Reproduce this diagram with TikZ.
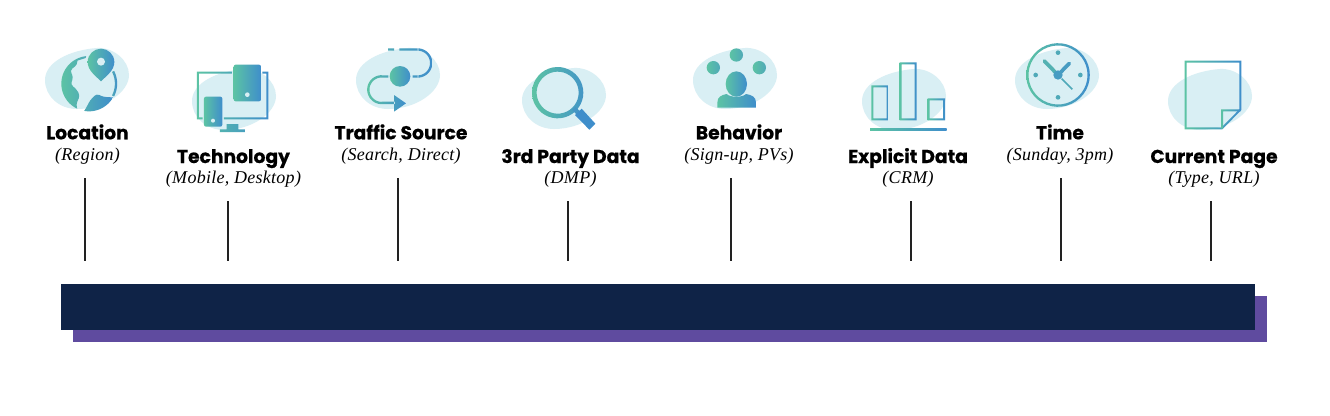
\documentclass[tikz,border=0pt]{standalone}
\usepackage{fontspec}
\newfontfamily\popf{Poppins}[BoldFeatures={FakeBold=0.6}]
\newfontfamily\serf{Liberation Serif}[ItalicFeatures={LetterSpace=1.5}]
\definecolor{gA}{HTML}{5CC3A4}
\definecolor{gM}{HTML}{4FA9B8}
\definecolor{gB}{HTML}{3F8ECB}
\definecolor{blobc}{HTML}{D9EFF4}
\definecolor{navy}{HTML}{0F2347}
\definecolor{purp}{HTML}{5F4B9F}
\definecolor{linec}{HTML}{222222}
\tikzset{
  gs/.style={left color=gA,right color=gB,draw=none},
  conn/.style={draw=linec,line width=1.5pt},
  ttl/.style={anchor=base,inner sep=0pt,font=\popf\bfseries\fontsize{18.7}{22}\selectfont,text=black},
  subt/.style={anchor=base,inner sep=0pt,font=\serf\itshape\fontsize{18}{22}\selectfont,text=black},
  zA/.style={shift={(20,30)},x=0.33333pt,y=-0.33333pt},
  zB/.style={shift={(320,30)},x=0.33333pt,y=-0.33333pt},
  zC/.style={shift={(670,30)},x=0.33333pt,y=-0.33333pt},
  zD/.style={shift={(990,30)},x=0.33333pt,y=-0.33333pt},
  zG/.style={shift={(40,42)},x=0.33333pt,y=-0.33333pt},
  zT/.style={shift={(1010,40)},x=0.33333pt,y=-0.33333pt},
  barbox/.style={anchor=north west,inner sep=0pt,minimum width=1194pt,minimum height=46pt,outer sep=0pt},
}
\newcommand\blobat[2]{\fill[blobc,shift={(#1,#2)}] (0,32) .. controls (0,14) and (25,2) .. (52,0) .. controls (68,-1) and (84,12) .. (84,27) .. controls (84,44) and (60,61) .. (32,61) .. controls (14,61) and (0,48) .. (0,32) -- cycle;}
\newcommand\ringarc[6]{plot[domain=#5:#6,samples=40]({#1+(#3+#4/2)*cos(\x)},{#2+(#3+#4/2)*sin(\x)}) -- plot[domain=#6:#5,samples=40]({#1+(#3-#4/2)*cos(\x)},{#2+(#3-#4/2)*sin(\x)}) -- cycle}
\newcommand\gbox[5]{\shade[gs,even odd rule] (#1,#2) rectangle (#3,#4) ({#1+#5},{#2+#5}) rectangle ({#3-#5},{#4-#5});}
\newcommand\lab[6]{\node[ttl] (t#1) at (#2,#3) {#5}; \node[subt] (s#1) at (#2,#4) {#6};}
\newcommand\conn[4]{\coordinate (a#1) at (#2,#3); \coordinate (b#1) at (#2,#4); \draw[conn] (a#1) -- (b#1);}
\begin{document}
\begin{tikzpicture}[x=1pt,y=-1pt]
\useasboundingbox (0,0) rectangle (1330,415);
\fill[white] (0,0) rectangle (1330,415);
% bars
\node[barbox,fill=purp] (shadowbar) at (73,296) {};
\node[barbox,fill=navy] (mainbar) at (61,284) {};
% blobs
\blobat{45}{48}\blobat{192}{69}\blobat{356}{48}\blobat{522}{68}
\blobat{693}{48}\blobat{862}{69}\blobat{1015}{48}\blobat{1168}{69}
% connectors
\conn{1}{85}{178}{261}\conn{2}{228}{201}{261}\conn{3}{398}{178}{261}\conn{4}{568}{201}{261}
\conn{5}{731}{178}{261}\conn{6}{911}{201}{261}\conn{7}{1061}{178}{261}\conn{8}{1211}{201}{261}
% labels
\lab{1}{87.5}{139.3}{160}{Location}{(Region)}
\lab{2}{233.5}{163}{183}{Technology}{(Mobile, Desktop)}
\lab{3}{401}{139.3}{160}{Traffic Source}{(Search, Direct)}
\lab{4}{570.5}{163}{183}{3rd Party Data}{(DMP)}
\lab{5}{739}{139.3}{160}{Behavior}{(Sign-up, PVs)}
\lab{6}{908}{163}{183}{Explicit Data}{(CRM)}
\lab{7}{1060}{139.3}{160}{Time}{(Sunday, 3pm)}
\lab{8}{1214}{163}{183}{Current Page}{(Type, URL)}
% --- globe
\begin{scope}[zG]
 \shade[gs] plot[domain=115:264,samples=40]({147+83*cos(\x)},{125+83*sin(\x)}) -- (137,48) -- (112,56) [rounded corners=3pt] -- (112,68) -- (90,85) -- (100,105) -- (92,128) -- (108,140) -- (120,160) -- (108,188) [sharp corners] -- cycle
   plot[domain=100:30,samples=30]({147+83*cos(\x)},{125+83*sin(\x)}) [rounded corners=3pt] -- (205,165) -- (190,165) -- (170,155) -- (150,175) -- (140,195) [sharp corners] -- cycle;
 \shade[left color=gM,right color=gB] \ringarc{147}{125}{81}{7}{-27}{27};
 \shade[gs] (183,118) .. controls (165,100) and (143,85) .. (143,60) .. controls (143,37) and (162,20) .. (183,20) .. controls (204,20) and (223,37) .. (223,60) .. controls (223,85) and (201,100) .. (183,118) -- cycle;
 \fill[blobc] (183,59) circle (12);
\end{scope}
% --- technology
\begin{scope}[zA]
 \shade[gs] (531,125) rectangle (636,131) (531,125) rectangle (537,268) (531,262) rectangle (548,268)
   (612,262) rectangle (745,268) (739,125) rectangle (745,268) (727,125) rectangle (745,131)
   (620,282) rectangle (655,300) (600,298) rectangle (675,306);
 \shade[gs,rounded corners=2pt] (641,104) rectangle (723,214);
 \shade[gs,rounded corners=2pt] (552,200) rectangle (607,290);
 \fill[blobc] (682,194) circle (7);
 \fill[blobc] (579,272) circle (6);
\end{scope}
% --- traffic + magnifier
\begin{scope}[zB]
 \shade[left color=gM,right color=gB] (204,55) rectangle (222,62) (238,55) rectangle (295,62) (278,136) rectangle (295,143) \ringarc{293}{99}{40.5}{7}{-90}{90};
 \shade[gs] (185,136) rectangle (205,143) (185,215) rectangle (225,222) \ringarc{185}{179}{40}{7}{90}{270} (222,195) -- (258,220) -- (222,245) -- cycle;
 \shade[gs] (240,139) circle (31);
 \shade[left color=gA,right color=gB!70!gM,even odd rule] \ringarc{713}{188}{70}{14}{0}{360};
 \fill[gM!30!gB] (757,240) -- (766,231) -- (785,248) -- (774,258) -- cycle;
 \fill[gB] (765,255) -- (785,236) -- (826,281) -- (808,299) -- cycle;
\end{scope}
% --- behavior + bars
\begin{scope}[zC]
 \shade[left color=gA,right color=gM] (199,75) circle (20);
 \shade[left color=gA,right color=gM] (130,113) circle (20);
 \shade[left color=gA,right color=gM] (268,113) circle (20);
 \shade[gs] (199,162) ellipse (32 and 38);
 \shade[gs] (142,233) -- (142,218) .. controls (142,200) and (155,195) .. (170,192) .. controls (180,203) and (218,203) .. (228,192) .. controls (245,195) and (258,200) .. (258,218) -- (258,233) -- cycle;
 \gbox{604}{166}{656}{271}{6}
 \gbox{689}{97}{740}{271}{6}
 \gbox{773}{205}{825}{271}{6}
 \shade[gs] (600,296) rectangle (830,301);
\end{scope}
% --- clock
\begin{scope}[zT]
 \shade[gs,even odd rule] \ringarc{144}{105}{92}{7}{0}{360};
 \foreach \px/\py in {144/38,144/172,77/105,211/105}{\fill[gM] (\px,\py) circle (7);}
 \draw[gM!70!gA,line width=3.7pt,line cap=round] (103,63) -- (144,105);
 \draw[gM!50!gB,line width=3.7pt,line cap=round] (178,70) -- (144,105);
 \draw[gM,line width=1.5pt] (155,116) -- (187,148);
 \fill[gM!50!gB] (144,105) circle (14);
\end{scope}
% --- page
\begin{scope}[zD]
 \shade[gs,even odd rule] (584,92) -- (754,92) -- (754,240) -- (697,298) -- (584,298) -- cycle
   (590,98) -- (748,98) -- (748,238) -- (695,292) -- (590,292) -- cycle;
 \shade[gs] (693,238) rectangle (699,296) (693,238) rectangle (752,244);
\end{scope}
\end{tikzpicture}
\end{document}
